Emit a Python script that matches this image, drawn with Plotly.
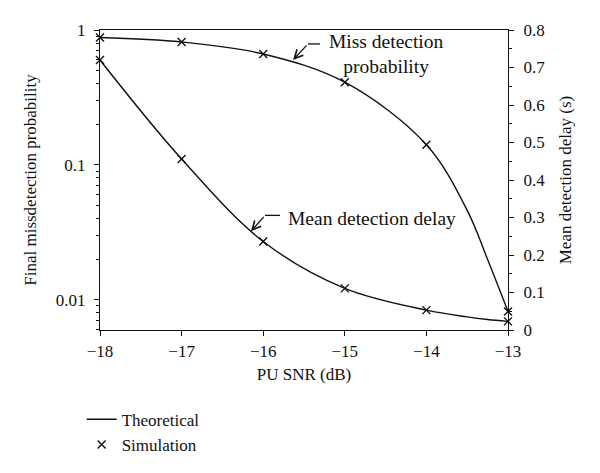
"""Probabilidad de no detección y retardo medio frente a la SNR del PU"""

import plotly.graph_objects as go

# Datos
snr = [-18, -17, -16, -15, -14, -13]
miss_sim = [0.88, 0.815, 0.664, 0.41, 0.141, 0.0082]
delay_sim = [0.72, 0.456, 0.236, 0.111, 0.053, 0.023]

snr_teo = [-18, -17, -16, -15, -14, -13.5, -13.25, -13]
miss_teo = [0.88, 0.815, 0.664, 0.41, 0.141, 0.046, 0.0199, 0.0082]
delay_teo = [0.72, 0.456, 0.236, 0.111, 0.053, 0.035, 0.028, 0.023]

fuente = "Liberation Serif"
negro = "#111111"
letra = dict(family=fuente, size=17, color=negro)
letra_nota = dict(family=fuente, size=19.5, color=negro)

# El body de la página tiene 8 px de margen: la figura ocupa 592x465
OFF = 8
ANCHO, ALTO = 600 - OFF, 473 - OFF
# Geometría del área de trazado (px de pantalla)
L, R, T, B = 100, 508, 30, 331


def px2paper(x, y):
    """Convierte píxeles de la ventana a coordenadas paper"""
    return (x - L) / (R - L), (B - y) / (B - T)


fig = go.Figure()

# Curvas teóricas
fig.add_trace(go.Scatter(x=snr_teo, y=miss_teo, mode="lines", line_shape="spline",
                         line=dict(color=negro, width=1.4), name="Theoretical",
                         showlegend=True))
fig.add_trace(go.Scatter(x=snr_teo, y=delay_teo, mode="lines", line_shape="spline",
                         yaxis="y2", line=dict(color=negro, width=1.4),
                         showlegend=False))

# Simulación
marcador = dict(symbol="x-thin", size=8, line=dict(color=negro, width=1.4))
fig.add_trace(go.Scatter(x=snr, y=miss_sim, mode="markers", marker=marcador,
                         name="Simulation", cliponaxis=False, showlegend=True))
fig.add_trace(go.Scatter(x=snr, y=delay_sim, mode="markers", marker=marcador,
                         yaxis="y2", cliponaxis=False, showlegend=False))

# Etiquetas con flecha
for texto, tx, ty, cabeza, cola, fin in [
        ("Miss detection<br>probability", 386, 54, (293, 60), (308, 44), 320),
        ("Mean detection delay", 372, 219, (251, 232), (265, 216), 280)]:
    px_, py_ = px2paper(tx, ty)
    fig.add_annotation(x=px_, y=py_, xref="paper", yref="paper", text=texto,
                       xanchor="center", yanchor="middle",
                       showarrow=False, font=letra_nota)
    hx, hy = px2paper(*cabeza)
    fig.add_annotation(x=hx, y=hy, xref="paper", yref="paper", text="",
                       showarrow=True, arrowhead=5, arrowsize=1.3, arrowwidth=1.3,
                       arrowcolor=negro, ax=cola[0] - cabeza[0], ay=cola[1] - cabeza[1])
    x0, y0 = px2paper(*cola)
    x1, _ = px2paper(fin, cola[1])
    fig.add_shape(type="line", xref="paper", yref="paper", x0=x0, y0=y0, x1=x1, y1=y0,
                  line=dict(color=negro, width=1.3))

eje = dict(showline=True, linecolor=negro, linewidth=1.4, ticks="outside",
           tickcolor=negro, ticklen=5, tickwidth=1.2, showgrid=False, zeroline=False,
           tickfont=letra, automargin=False)

fig.update_layout(
    width=ANCHO, height=ALTO,
    margin=dict(l=L - OFF, r=600 - R, t=T - OFF, b=473 - B),
    plot_bgcolor="white", paper_bgcolor="white",
    font=letra,
    xaxis=dict(eje, range=[-18, -13], tickvals=snr, mirror=True,
               title=dict(text="PU SNR (dB)", standoff=8, font=letra)),
    yaxis=dict(eje, type="log", range=[-2.224, 0], tickvals=[0.01, 0.1, 1],
               ticktext=["0.01", "0.1", "1"], ticklabelstandoff=5,
               minor=dict(ticks="outside", ticklen=3, tickcolor=negro, dtick="D1"),
               title=dict(text="Final missdetection probability", standoff=14, font=letra)),
    yaxis2=dict(eje, overlaying="y", side="right", range=[0, 0.8], dtick=0.1,
                ticklabelstandoff=6,
                minor=dict(ticks="outside", ticklen=3, tickcolor=negro, dtick=0.05),
                title=dict(text="Mean detection delay (s)", standoff=14, font=letra)),
    legend=dict(x=-0.045, y=-0.235, xanchor="left", yanchor="top", font=letra,
                bgcolor="rgba(0,0,0,0)", tracegroupgap=0),
)

fig.write_html("out.html")
